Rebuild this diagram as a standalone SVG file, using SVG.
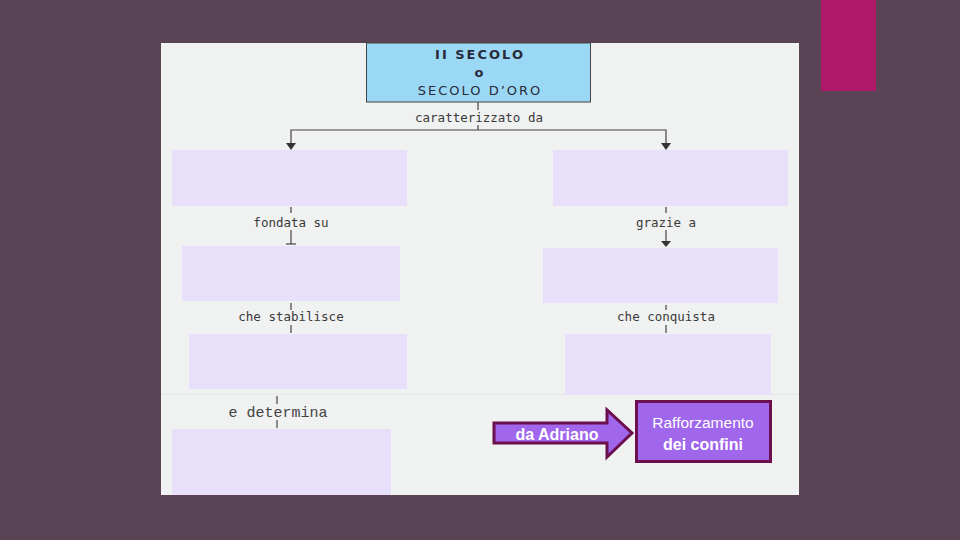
<svg xmlns="http://www.w3.org/2000/svg" width="960" height="540" viewBox="0 0 960 540">
<defs>
<style>
.bg{fill:#594354}
.box{fill:#e8dffa}
.lbl{font-family:"DejaVu Sans Mono",monospace;font-size:12.5px;fill:#3a3a3a;text-anchor:middle}
.ln{stroke:#444;stroke-width:1.2;fill:none}
.ttl{font-family:"DejaVu Sans",sans-serif;font-size:13px;fill:#2a2a3a;text-anchor:middle;letter-spacing:2px}
.pur{fill:#a066ec;stroke:#6b0f4e;stroke-width:3}
.wt{font-family:"Liberation Sans",Arial,sans-serif;fill:#ffffff;text-anchor:middle}
</style>
</defs>
<rect class="bg" x="0" y="0" width="960" height="540"/>
<rect x="821" y="0" width="55" height="91" fill="#b0186a"/>
<rect x="161" y="43" width="638" height="452" fill="#f0f1f1"/>
<line x1="161" y1="394.5" x2="799" y2="394.5" stroke="#e6e7e7" stroke-width="1"/>

<g id="connectors">
<line class="ln" x1="478" y1="102" x2="478" y2="110"/>
<line class="ln" x1="478" y1="125" x2="478" y2="130"/>
<text class="lbl" x="479" y="122">caratterizzato da</text>
<polyline class="ln" points="291,143 291,130 666,130 666,143"/>
<path d="M286,143 L296,143 L291,150 Z" fill="#333"/>
<path d="M661,143 L671,143 L666,150 Z" fill="#333"/>

<line class="ln" x1="291" y1="207" x2="291" y2="213"/>
<text class="lbl" x="291" y="227">fondata su</text>
<line class="ln" x1="291" y1="230" x2="291" y2="244"/>
<line class="ln" x1="286" y1="244" x2="296" y2="244"/>

<line class="ln" x1="666" y1="207" x2="666" y2="213"/>
<text class="lbl" x="666" y="227">grazie a</text>
<line class="ln" x1="666" y1="230" x2="666" y2="241"/>
<path d="M661,241 L671,241 L666,247 Z" fill="#333"/>

<line class="ln" x1="291" y1="303" x2="291" y2="310"/>
<text class="lbl" x="291" y="321">che stabilisce</text>
<line class="ln" x1="291" y1="325" x2="291" y2="333"/>

<line class="ln" x1="666" y1="305" x2="666" y2="310"/>
<text class="lbl" x="666" y="321">che conquista</text>
<line class="ln" x1="666" y1="325" x2="666" y2="333"/>

<line class="ln" x1="277" y1="396" x2="277" y2="404"/>
<text x="278" y="417" font-family="Liberation Mono,monospace" font-size="15" fill="#444" text-anchor="middle">e determina</text>
<line class="ln" x1="277" y1="420" x2="277" y2="428"/>
</g>

<g id="n-top">
<rect x="366.5" y="43" width="224" height="59" fill="#9ad8f5" stroke="#444" stroke-width="1"/>
<text class="ttl" x="480" y="59" font-weight="bold">II SECOLO</text>
<text class="ttl" x="480" y="77" font-weight="bold">o</text>
<text class="ttl" x="480" y="95">SECOLO D’ORO</text>
</g>
<g id="n-l1"><rect class="box" x="172" y="150" width="235" height="56"/></g>
<g id="n-r1"><rect class="box" x="553" y="150" width="235" height="56"/></g>
<g id="n-l2"><rect class="box" x="182" y="246" width="218" height="55"/></g>
<g id="n-r2"><rect class="box" x="543" y="248" width="235" height="55"/></g>
<g id="n-l3"><rect class="box" x="189" y="334" width="218" height="55"/></g>
<g id="n-r3"><rect class="box" x="565" y="334" width="206" height="61"/></g>
<g id="n-l4"><rect class="box" x="172" y="429" width="219" height="66"/></g>

<g id="n-arrow">
<polygon class="pur" points="494,423 607,423 607,410 632,433 607,457 607,443 494,443"/>
<text class="wt" x="557" y="440" font-size="16" font-weight="bold">da Adriano</text>
</g>
<g id="n-rafforzamento">
<rect class="pur" x="636.5" y="401.5" width="134" height="60"/>
<text class="wt" x="703" y="428" font-size="15.5">Rafforzamento</text>
<text class="wt" x="703" y="450" font-size="16" font-weight="bold">dei confini</text>
</g>
</svg>
